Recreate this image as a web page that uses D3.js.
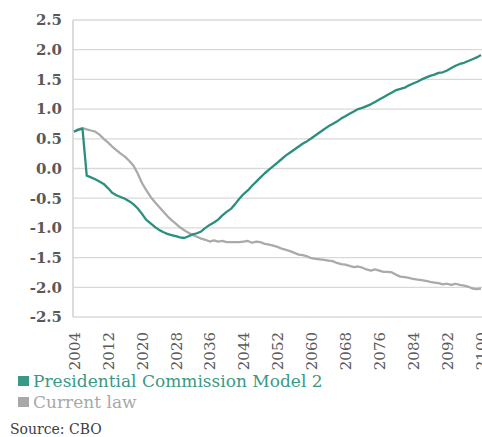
<!DOCTYPE html>
<html>
<head>
    <title>Presidential Commission Model 2 vs Current law</title>
    <script src='https://d3js.org/d3.v7.min.js' charset='utf-8'></script>
    <style type="text/css">
        body { margin: 0; background: #fff; }
        .chart { display: block; }
        .chart text { font-family: 'DejaVu Serif', serif; }
    </style>
</head>
<body>
    <svg class='chart'></svg>

    <script type='text/javascript'>
    var width = 482;
    var height = 437;

    var firstYear = 2004;
    var lastYear = 2100;
    var yearTicks = [2004, 2012, 2020, 2028, 2036, 2044, 2052, 2060, 2068, 2076, 2084, 2092, 2100];
    var valueTicks = [2.5, 2.0, 1.5, 1.0, 0.5, 0.0, -0.5, -1.0, -1.5, -2.0, -2.5];

    var seriesNames = ['Presidential Commission Model 2', 'Current law'];

    // one value per year, 2004..2100
    var commissionModel2 = [
        0.62, 0.65, 0.67, -0.12, -0.15, -0.18, -0.22, -0.26, -0.33, -0.41,
        -0.45, -0.48, -0.51, -0.55, -0.60, -0.67, -0.76, -0.86, -0.92, -0.98,
        -1.03, -1.07, -1.10, -1.12, -1.14, -1.16, -1.17, -1.14, -1.11, -1.09,
        -1.06, -1.00, -0.95, -0.91, -0.86, -0.79, -0.73, -0.68, -0.60, -0.51,
        -0.43, -0.37, -0.29, -0.22, -0.15, -0.08, -0.02, 0.04, 0.10, 0.16,
        0.22, 0.27, 0.32, 0.37, 0.42, 0.46, 0.51, 0.56, 0.61, 0.66,
        0.71, 0.75, 0.79, 0.84, 0.88, 0.92, 0.96, 1.00, 1.02, 1.05,
        1.08, 1.12, 1.16, 1.20, 1.24, 1.28, 1.32, 1.34, 1.36, 1.40,
        1.43, 1.46, 1.50, 1.53, 1.56, 1.58, 1.61, 1.62, 1.65, 1.69,
        1.73, 1.76, 1.78, 1.81, 1.84, 1.87, 1.91
    ];

    var currentLaw = [
        0.62, 0.66, 0.68, 0.66, 0.64, 0.62, 0.57, 0.50, 0.44, 0.37,
        0.31, 0.25, 0.20, 0.13, 0.05, -0.08, -0.24, -0.36, -0.47, -0.56,
        -0.64, -0.72, -0.80, -0.87, -0.93, -0.99, -1.04, -1.08, -1.12, -1.15,
        -1.18, -1.20, -1.23, -1.21, -1.23, -1.22, -1.24, -1.24, -1.24, -1.24,
        -1.23, -1.22, -1.25, -1.23, -1.24, -1.27, -1.28, -1.30, -1.32, -1.35,
        -1.37, -1.39, -1.42, -1.45, -1.46, -1.48, -1.51, -1.52, -1.53, -1.54,
        -1.55, -1.56, -1.59, -1.61, -1.62, -1.64, -1.66, -1.65, -1.67, -1.70,
        -1.72, -1.70, -1.72, -1.74, -1.74, -1.75, -1.79, -1.82, -1.83, -1.84,
        -1.86, -1.87, -1.88, -1.89, -1.91, -1.92, -1.93, -1.95, -1.94, -1.96,
        -1.94, -1.96, -1.97, -1.99, -2.02, -2.03, -2.02
    ];

    var colors = ['#2b8f7e', '#aaaaaa'];
    var legendColors = ['#3a9985', '#a8a8a8'];

    var years = d3.range(firstYear, lastYear + 1);

    var x = d3.scaleLinear()
        .domain([firstYear, lastYear])
        .range([74, 481]);

    var y = d3.scaleLinear()
        .domain([-2.5, 2.5])
        .range([317, 20]);

    var chart = d3.select('.chart')
        .attr('width', width)
        .attr('height', height);

    // horizontal gridlines
    chart.append('g')
        .selectAll('line')
        .data(valueTicks)
        .enter()
        .append('line')
            .attr('x1', x(firstYear) - 1)
            .attr('x2', width)
            .attr('y1', function (d) { return y(d); })
            .attr('y2', function (d) { return y(d); })
            .attr('stroke', '#d9d9d9')
            .attr('stroke-width', 1.3);

    // left axis line
    chart.append('line')
        .attr('x1', x(firstYear) - 1)
        .attr('x2', x(firstYear) - 1)
        .attr('y1', y(2.5))
        .attr('y2', y(-2.5))
        .attr('stroke', '#d0d0d0')
        .attr('stroke-width', 1.5);

    // y axis labels
    var yAxis = d3.axisLeft(y)
        .tickValues(valueTicks)
        .tickFormat(d3.format('.1f'))
        .tickSize(0)
        .tickPadding(11);

    var yg = chart.append('g')
        .attr('transform', 'translate(' + (x(firstYear) - 1) + ',0)')
        .call(yAxis);
    yg.select('.domain').remove();
    yg.selectAll('text')
        .attr('fill', '#595959')
        .style('font-size', '15px')
        .style('font-weight', '600')
        .text(function (d) { return d3.format('.1f')(d).replace('−', '-'); });

    // x axis labels, rotated
    var xAxis = d3.axisBottom(x)
        .tickValues(yearTicks)
        .tickFormat(d3.format('d'))
        .tickSize(0);

    var xg = chart.append('g')
        .attr('transform', 'translate(0,' + y(-2.5) + ')')
        .call(xAxis);
    xg.select('.domain').remove();
    xg.selectAll('text')
        .attr('fill', '#595959')
        .style('font-size', '15px')
        .attr('transform', 'rotate(-90)')
        .attr('text-anchor', 'end')
        .attr('x', -15)
        .attr('y', 0)
        .attr('dy', '0.35em');

    // lines
    var line = d3.line()
        .x(function (d, i) { return x(years[i]); })
        .y(function (d) { return y(d); });

    chart.append('path')
        .datum(currentLaw)
        .attr('d', line)
        .attr('fill', 'none')
        .attr('stroke', colors[1])
        .attr('stroke-width', 2.3)
        .attr('stroke-linejoin', 'round');

    chart.append('path')
        .datum(commissionModel2)
        .attr('d', line)
        .attr('fill', 'none')
        .attr('stroke', colors[0])
        .attr('stroke-width', 2.3)
        .attr('stroke-linejoin', 'round');

    // legend
    var legend = chart.append('g')
        .selectAll('g')
        .data(seriesNames)
        .enter()
        .append('g')
            .attr('transform', function (d, i) { return 'translate(18,' + (376 + i * 21) + ')'; });

    legend.append('rect')
        .attr('width', 11)
        .attr('height', 10)
        .attr('fill', function (d, i) { return legendColors[i]; });

    legend.append('text')
        .attr('x', 15)
        .attr('y', 11)
        .attr('fill', function (d, i) { return legendColors[i]; })
        .style('font-size', '17px')
        .text(function (d) { return d; });

    chart.append('text')
        .attr('x', 10)
        .attr('y', 434)
        .attr('fill', '#404040')
        .style('font-size', '14px')
        .text('Source: CBO');
    </script>
</body>
</html>
